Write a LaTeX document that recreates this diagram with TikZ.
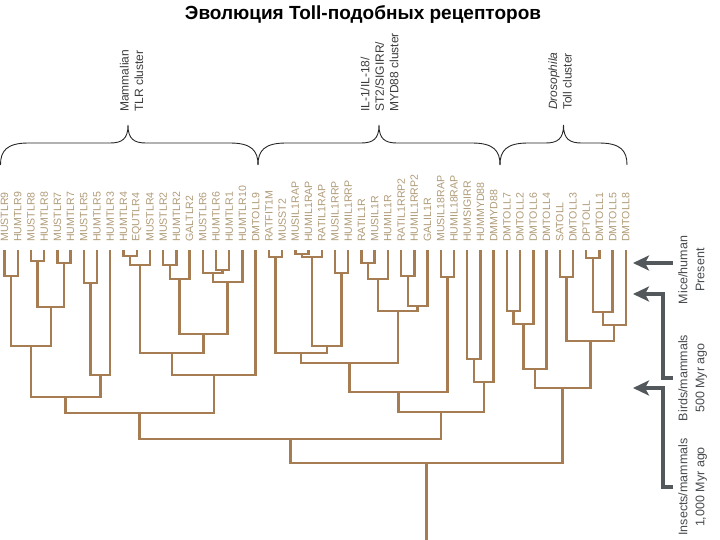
\documentclass[tikz,border=0pt]{standalone}
\usepackage{fontspec}
\setmainfont{Liberation Sans}
\usetikzlibrary{arrows.meta,calc}
\usepackage{xcolor}
\definecolor{branchc}{HTML}{A67C52}
\definecolor{leafc}{HTML}{B09B78}
\definecolor{ink}{HTML}{3C3C3C}
\definecolor{timec}{HTML}{53585C}
\newcommand{\clade}[4]{%
  \path let \p1=(#2), \p2=(#3) in coordinate (#1) at ({(\x1+\x2)/2},#4);
  \draw[branch] (#2) |- (#1) -| (#3);
}
\newcommand{\clusterbrace}[3]{%
  \draw[bracket] (#1,165) .. controls (#1,151) and (#1+6,143) .. (#1+28,143)
    -- (#2-18,143) .. controls (#2-6,143) and (#2,139) .. (#2,125)
    .. controls (#2,139) and (#2+6,143) .. (#2+18,143)
    -- (#3-28,143) .. controls (#3-6,143) and (#3,151) .. (#3,165);
}
\tikzset{
  >=Latex,
  branch/.style={draw=branchc,line width=2.4pt},
  leaf/.style={rotate=90,anchor=west,text=leafc,font=\fontsize{10.6}{12}\selectfont,inner xsep=8pt,inner ysep=1pt},
  clusterlabel/.style={rotate=90,anchor=west,align=left,text=ink,font=\fontsize{12}{14.5}\selectfont,inner sep=0pt},
  timelabel/.style={rotate=90,anchor=north,align=center,text=timec!85!black,font=\fontsize{12.5}{17}\selectfont,inner sep=5pt},
  bracket/.style={draw=black!85,line width=0.9pt},
  timearrow/.style={-{Stealth[length=16pt,width=15pt,inset=4pt]},draw=timec,line width=4pt},
  title/.style={font=\fontsize{19}{22}\selectfont\bfseries},
}
\begin{document}
\begin{tikzpicture}[x=1pt,y=-1pt]
\useasboundingbox (0,0) rectangle (720,540);

\node[title] (title) at (363,15) {Эволюция Toll-подобных рецепторов};

% leaves
\foreach \g [count=\i from 0] in {MUSTLR9,HUMTLR9,MUSTLR8,HUMTLR8,MUSTLR7,HUMTLR7,MUSTLR5,HUMTLR5,HUMTLR3,HUMTLR4,EQUTLR4,MUSTLR4,MUSTLR2,HUMTLR2,GALTLR2,MUSTLR6,HUMTLR6,HUMTLR1,HUMTLR10,DMTOLL9,RATFIT1M,MUSST2,MUSIL1RAP,HUMIL1RAP,RATIL1RAP,MUSIL1RRP,HUMIL1RRP,RATIL1R,MUSIL1R,HUMIL1R,RATIL1RRP2,HUMIL1RRP2,GALIL1R,MUSIL18RAP,HUMIL18RAP,HUMSIGIRR,HUMMYD88,DMMYD88,DMTOLL7,DMTOLL2,DMTOLL6,DMTOLL4,SATOLL,DMTOLL3,DPTOLL,DMTOLL1,DMTOLL5,DMTOLL8}
  \node[leaf] (\g) at (4.5+13.22*\i,250) {\g};

% mammalian TLR cluster
\clade{tlr9}{MUSTLR9.west}{HUMTLR9.west}{276}
\clade{tlr8}{MUSTLR8.west}{HUMTLR8.west}{261}
\clade{tlr7}{MUSTLR7.west}{HUMTLR7.west}{263}
\clade{tlr78}{tlr8}{tlr7}{307}
\clade{tlr789}{tlr9}{tlr78}{346}
\clade{tlr5}{MUSTLR5.west}{HUMTLR5.west}{283}
\clade{tlr35}{tlr5}{HUMTLR3.west}{375}
\clade{grpa}{tlr789}{tlr35}{397}
\clade{tlr4a}{HUMTLR4.west}{EQUTLR4.west}{256}
\clade{tlr4}{tlr4a}{MUSTLR4.west}{265}
\clade{tlr2a}{MUSTLR2.west}{HUMTLR2.west}{265}
\clade{tlr2}{tlr2a}{GALTLR2.west}{279}
\clade{tlr16a}{HUMTLR6.west}{HUMTLR1.west}{270}
\clade{tlr16}{MUSTLR6.west}{tlr16a}{273}
\clade{tlr1610}{tlr16}{HUMTLR10.west}{282}
\clade{tlr2610}{tlr2}{tlr1610}{334}
\clade{tlr24}{tlr4}{tlr2610}{353}
\clade{grpb}{tlr24}{DMTOLL9.west}{375}
\clade{tlrall}{grpa}{grpb}{413}

% IL-1 / MYD88 cluster
\clade{st2}{RATFIT1M.west}{MUSST2.west}{257}
\clade{il1rapa}{MUSIL1RAP.west}{HUMIL1RAP.west}{254}
\clade{il1rap}{il1rapa}{RATIL1RAP.west}{257}
\clade{il1rrp}{MUSIL1RRP.west}{HUMIL1RRP.west}{273}
\clade{il1rap2}{il1rap}{il1rrp}{346}
\clade{il1racc}{st2}{il1rap2}{353}
\clade{il1ra}{RATIL1R.west}{MUSIL1R.west}{263}
\clade{il1r}{il1ra}{HUMIL1R.west}{279}
\clade{il1rrp2a}{RATIL1RRP2.west}{HUMIL1RRP2.west}{276}
\clade{il1rrp2}{il1rrp2a}{GALIL1R.west}{306}
\clade{il1rgrp}{il1r}{il1rrp2}{311}
\clade{il1all}{il1racc}{il1rgrp}{363}
\clade{il18rap}{MUSIL18RAP.west}{HUMIL18RAP.west}{277}
\clade{il1fam}{il1all}{il18rap}{392}
\clade{sigmyd}{HUMSIGIRR.west}{HUMMYD88.west}{359}
\clade{myd88}{sigmyd}{DMMYD88.west}{382}
\clade{ilcluster}{il1fam}{myd88}{412}
\clade{vert}{tlrall}{ilcluster}{439}

% Drosophila Toll cluster
\clade{toll72}{DMTOLL7.west}{DMTOLL2.west}{311}
\clade{toll726}{toll72}{DMTOLL6.west}{324}
\clade{toll7264}{toll726}{DMTOLL4.west}{369}
\clade{toll3}{SATOLL.west}{DMTOLL3.west}{277}
\clade{toll1}{DPTOLL.west}{DMTOLL1.west}{258}
\clade{toll15}{toll1}{DMTOLL5.west}{312}
\clade{toll158}{toll15}{DMTOLL8.west}{325}
\clade{toll31}{toll3}{toll158}{341}
\clade{dros}{toll7264}{toll31}{388}
\clade{root}{vert}{dros}{463}
\coordinate (base) at (root |- 0,540);
\draw[branch] (root) -- (base);

% cluster braces
\clusterbrace{0.5}{128}{258}
\clusterbrace{258}{379}{500}
\clusterbrace{500}{563.5}{627}
\node[clusterlabel] (tlrlab) at (131.5,112) {Mammalian\\TLR cluster};
\node[clusterlabel] (illab) at (379.5,112) {IL-1/IL-18/\\ST2/SIGIRR/\\MYD88 cluster};
\node[clusterlabel] (drolab) at (560,110) {\textit{Drosophila}\\Toll cluster};

% time scale
\node[timelabel] (mice) at (673,270) {Mice/human\\Present};
\node[timelabel] (birds) at (673,378) {Birds/mammals\\500 Myr ago};
\node[timelabel] (insects) at (673,487) {Insects/mammals\\1,000 Myr ago};
\coordinate (tnow) at (633,263);
\coordinate (t500) at (633,294);
\coordinate (t1000) at (633,388);
\draw[timearrow] (tnow -| mice.north) -- (tnow);
\draw[timearrow] (birds.north) -- ++(-10,0) |- (t500);
\draw[timearrow] (insects.north) -- ++(-10,0) |- (t1000);

\end{tikzpicture}
\end{document}
